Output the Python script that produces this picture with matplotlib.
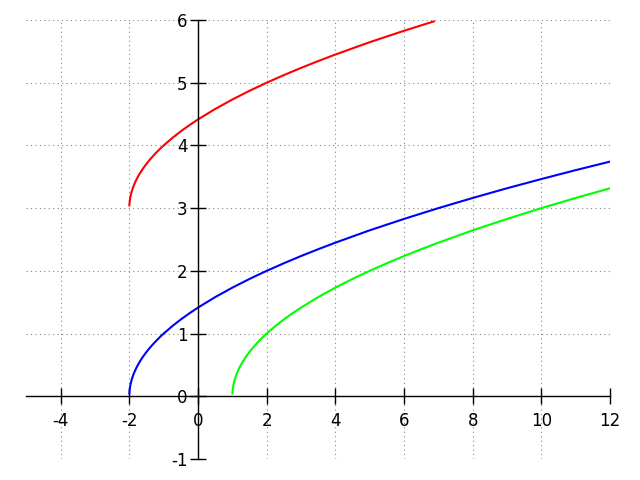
import matplotlib
matplotlib.use("Agg")
import matplotlib.pyplot as plt

plt.rcParams['axes.unicode_minus'] = False
plt.rcParams['font.family'] = ['DejaVu Sans']

blue_x = [-1.998, -1.995, -1.99, -1.98, -1.97, -1.955, -1.94, -1.92, -1.9, -1.87, -1.84,
          -1.8, -1.75, -1.7, -1.65, -1.58, -1.5, -1.4, -1.25, -1.1, -1.0, -0.75, -0.5,
          -0.25, 0.0, 0.5, 1.0, 1.5, 2.0, 2.5, 3.0, 3.5, 4, 5, 6, 7, 8, 9, 10, 11, 12]
blue_y = [0.045, 0.071, 0.1, 0.141, 0.173, 0.212, 0.245, 0.283, 0.316, 0.361, 0.4,
          0.447, 0.5, 0.548, 0.592, 0.648, 0.707, 0.775, 0.866, 0.949, 1.0, 1.118, 1.225,
          1.323, 1.414, 1.581, 1.732, 1.871, 2.0, 2.121, 2.236, 2.345, 2.449, 2.646, 2.828,
          3.0, 3.162, 3.317, 3.464, 3.606, 3.742]

green_x = [1.002, 1.005, 1.01, 1.02, 1.03, 1.045, 1.06, 1.08, 1.1, 1.13, 1.16,
           1.2, 1.25, 1.3, 1.35, 1.42, 1.5, 1.6, 1.75, 1.9, 2.0, 2.25, 2.5,
           2.75, 3.0, 3.5, 4.0, 4.5, 5.0, 5.5, 6.0, 6.5, 7, 8, 9, 10, 11, 12]
green_y = [0.045, 0.071, 0.1, 0.141, 0.173, 0.212, 0.245, 0.283, 0.316, 0.361, 0.4,
           0.447, 0.5, 0.548, 0.592, 0.648, 0.707, 0.775, 0.866, 0.949, 1.0, 1.118, 1.225,
           1.323, 1.414, 1.581, 1.732, 1.871, 2.0, 2.121, 2.236, 2.345, 2.449, 2.646, 2.828,
           3.0, 3.162, 3.317]

red_x = [-1.998, -1.995, -1.99, -1.98, -1.97, -1.955, -1.94, -1.92, -1.9, -1.87, -1.84,
         -1.8, -1.75, -1.7, -1.65, -1.58, -1.5, -1.4, -1.25, -1.1, -1.0, -0.75, -0.5,
         -0.25, 0.0, 0.5, 1.0, 1.5, 2.0, 2.5, 3.0, 3.5, 4, 5, 6, 6.87]
red_y = [3.045, 3.071, 3.1, 3.141, 3.173, 3.212, 3.245, 3.283, 3.316, 3.361, 3.4,
         3.447, 3.5, 3.548, 3.592, 3.648, 3.707, 3.775, 3.866, 3.949, 4.0, 4.118, 4.225,
         4.323, 4.414, 4.581, 4.732, 4.871, 5.0, 5.121, 5.236, 5.345, 5.449, 5.646, 5.828,
         5.978]

x_ticks = [-4, -2, 0, 2, 4, 6, 8, 10, 12]
y_ticks = [-1, 0, 1, 2, 3, 4, 5, 6]

fig = plt.figure(figsize=(6.4, 4.8), dpi=100)
ax = fig.add_axes([26.3/640, 21/480, 583.7/640, 439/480])
ax.set_xlim(-5, 12)
ax.set_ylim(-1, 6)

ax.plot(red_x, red_y, color='#ff0000', lw=1.5, clip_on=False)
ax.plot(blue_x, blue_y, color='#0000ff', lw=1.5)
ax.plot(green_x, green_y, color='#00ff00', lw=1.5)

ax.spines['left'].set_position(('data', 0))
ax.spines['bottom'].set_position(('data', 0))
ax.spines['top'].set_visible(False)
ax.spines['right'].set_visible(False)
for s in ('left', 'bottom'):
    ax.spines[s].set_linewidth(1.0)
    ax.spines[s].set_color('black')

ax.set_xticks(x_ticks)
ax.set_yticks(y_ticks)
ax.set_xticklabels([str(t) for t in x_ticks])
ax.set_yticklabels([str(t) for t in y_ticks])
ax.tick_params(axis='both', direction='inout', length=11, width=1.0, labelsize=12, colors='black')
ax.tick_params(axis='x', pad=6)
ax.tick_params(axis='y', pad=2)

ax.grid(True, color='#888888', linestyle=(0, (1, 3)), linewidth=0.8)
ax.set_axisbelow(True)

fig.savefig('out.png', dpi=100)
